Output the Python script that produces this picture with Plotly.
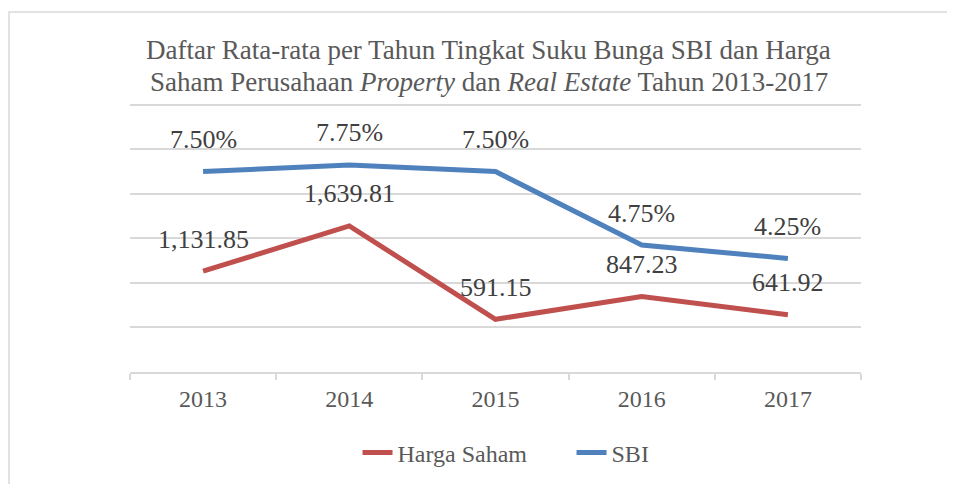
import plotly.graph_objects as go

# data
years = ["2013", "2014", "2015", "2016", "2017"]
harga_saham = [1131.85, 1639.81, 591.15, 847.23, 641.92]
sbi = [0.0750, 0.0775, 0.0750, 0.0475, 0.0425]

harga_labels = ["1,131.85", "1,639.81", "591.15", "847.23", "641.92"]
sbi_labels = ["7.50%", "7.75%", "7.50%", "4.75%", "4.25%"]

title_lines = [
    "Daftar Rata-rata per Tahun Tingkat Suku Bunga SBI dan Harga",
    "Saham Perusahaan <i>Property</i> dan <i>Real Estate</i> Tahun 2013-2017",
]

RED = "#C0504D"
BLUE = "#4F81BD"
TXT = "#404040"
GREY = "#595959"
LINE = "#d9d9d9"
FONT = "Liberation Serif"

fig = go.Figure()
fig.add_trace(go.Scatter(x=years, y=harga_saham, name="Harga Saham", mode="lines",
                         line=dict(color=RED, width=5), yaxis="y"))
fig.add_trace(go.Scatter(x=years, y=sbi, name="SBI", mode="lines",
                         line=dict(color=BLUE, width=5), yaxis="y2"))

# data labels above each point (category index on the x axis)
for i, (y, t) in enumerate(zip(harga_saham, harga_labels)):
    fig.add_annotation(x=i, y=y, xref="x", yref="y", text=t, showarrow=False,
                       yshift=32, font=dict(size=26, color=TXT, family=FONT))
for i, (y, t) in enumerate(zip(sbi, sbi_labels)):
    fig.add_annotation(x=i, y=y, xref="x", yref="y2", text=t, showarrow=False,
                       yshift=32, font=dict(size=26, color=TXT, family=FONT))

# two-line title
for line, ty in zip(title_lines, [1.197, 1.078]):
    fig.add_annotation(x=0.491, y=ty, xref="paper", yref="paper", text=line,
                       showarrow=False, xanchor="center", yanchor="middle",
                       font=dict(size=27, color=GREY, family=FONT))

# outer chart frame
fig.add_shape(type="rect", xref="paper", yref="paper",
              x0=-0.1655, x1=1.3, y0=-1.0, y1=1.338,
              line=dict(color=LINE, width=1.5), layer="below")

# page body has an 8px margin, so the figure is 8px smaller than the window
fig.update_layout(
    width=947, height=476,
    margin=dict(l=122, r=94, t=95, b=112, autoexpand=False),
    paper_bgcolor="white", plot_bgcolor="white",
    font=dict(family=FONT, color=TXT),
    xaxis=dict(
        type="category", range=[-0.5, 4.5], showgrid=False, showline=True,
        linecolor=LINE, linewidth=1.5, ticks="outside", tickson="boundaries",
        ticklen=6, tickcolor=LINE, tickwidth=1.5, ticklabelstandoff=4,
        tickfont=dict(size=24, color=GREY), zeroline=False, automargin=False,
    ),
    yaxis=dict(
        range=[0, 3020], dtick=500, showgrid=True, gridcolor=LINE,
        gridwidth=1.5, showticklabels=False, zeroline=False, showline=False,
        automargin=False,
    ),
    yaxis2=dict(
        range=[0, 0.10067], overlaying="y", side="right", showgrid=False,
        showticklabels=False, zeroline=False, showline=False, automargin=False,
    ),
    legend=dict(
        orientation="h", x=0.604, xanchor="center", y=-0.301, yanchor="middle",
        font=dict(size=24, color=GREY), entrywidth=169, entrywidthmode="pixels",
    ),
    showlegend=True,
)

fig.write_html("out.html")
